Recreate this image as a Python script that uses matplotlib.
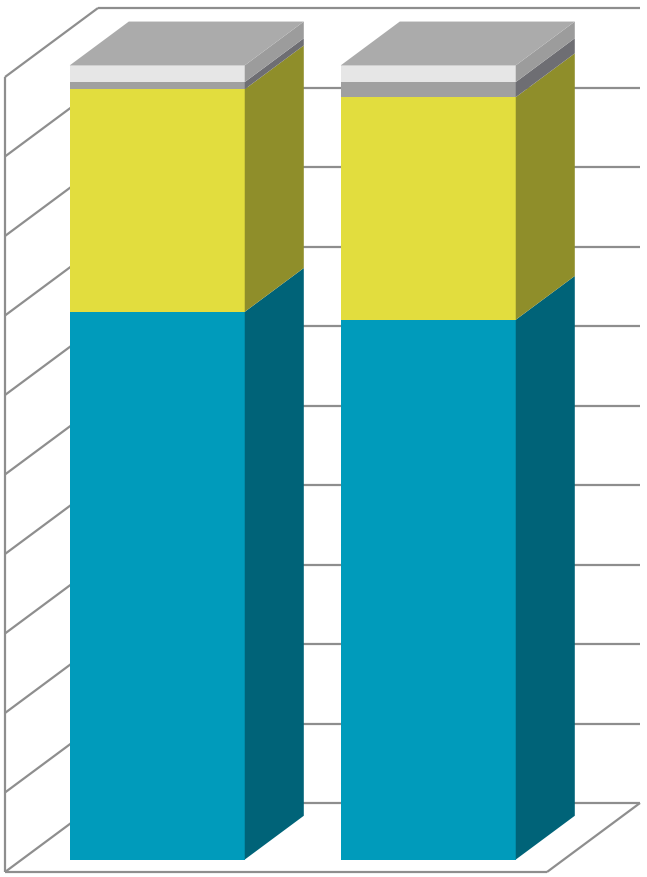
import matplotlib
matplotlib.use("Agg")
import matplotlib.pyplot as plt
from matplotlib.patches import Polygon

categories = [0, 1]
series_teal = [68.9, 67.9]
series_yellow = [28.0, 28.0]
series_gray = [0.9, 1.9]
series_light = [2.1, 2.1]
grid_values = [0, 10, 20, 30, 40, 50, 60, 70, 80, 90, 100]

front_colors = ["#009BBB", "#E2DD3E", "#A0A0A0", "#E6E6E6"]
side_colors = ["#006378", "#8F8E2A", "#6E6E73", "#9C9C9C"]
top_color = "#ABABAB"
grid_color = "#8E8E8E"

W, H = 647, 878
PX_X, PX_Y = 271.0, 7.95      # pixels per category, per percent
ORIGIN_PX = 873
fig = plt.figure(figsize=(W / 100, H / 100), dpi=100)
ax = fig.add_axes([0, 0, 1, 1])
ax.set_xlim(-0.5 - 5 / PX_X, -0.5 + (W - 5) / PX_X)
ax.set_ylim(-(H - ORIGIN_PX) / PX_Y, ORIGIN_PX / PX_Y)
ax.axis("off")

DX, DY = 93 / PX_X, 69 / PX_Y  # oblique depth of the whole box
BAR_W = 175 / PX_X
D0, D1 = 0.18, 0.815           # depth range of the bars
X0, X1 = -0.5, 1.5


def proj(x, y, d):
    return (x + d * DX, y + d * DY)


def line(a, b, z=1):
    ax.plot([a[0], b[0]], [a[1], b[1]], color=grid_color, lw=1.6, zorder=z,
            solid_capstyle="butt")


# walls and floor
for v in grid_values:
    line(proj(X0, v, 0), proj(X0, v, 1))
    line(proj(X0, v, 1), proj(X1, v, 1))
line(proj(X0, 0, 0), proj(X1, 0, 0))
line(proj(X1, 0, 0), proj(X1, 0, 1))
line(proj(X0, 0, 0), proj(X0, 100, 0))

# stacked oblique bars
stacks = [series_teal, series_yellow, series_gray, series_light]
for i, c in enumerate(categories):
    left, right = c - BAR_W / 2, c + BAR_W / 2
    base = 0.0
    for s, fc, sc in zip(stacks, front_colors, side_colors):
        top = base + s[i]
        ax.add_patch(Polygon([proj(left, base, D0), proj(right, base, D0),
                              proj(right, top, D0), proj(left, top, D0)],
                             closed=True, fc=fc, ec="none", zorder=3))
        ax.add_patch(Polygon([proj(right, base, D0), proj(right, base, D1),
                              proj(right, top, D1), proj(right, top, D0)],
                             closed=True, fc=sc, ec="none", zorder=3))
        base = top
    ax.add_patch(Polygon([proj(left, base, D0), proj(right, base, D0),
                          proj(right, base, D1), proj(left, base, D1)],
                         closed=True, fc=top_color, ec="none", zorder=3))

fig.savefig("out.png", dpi=100, facecolor="white")
